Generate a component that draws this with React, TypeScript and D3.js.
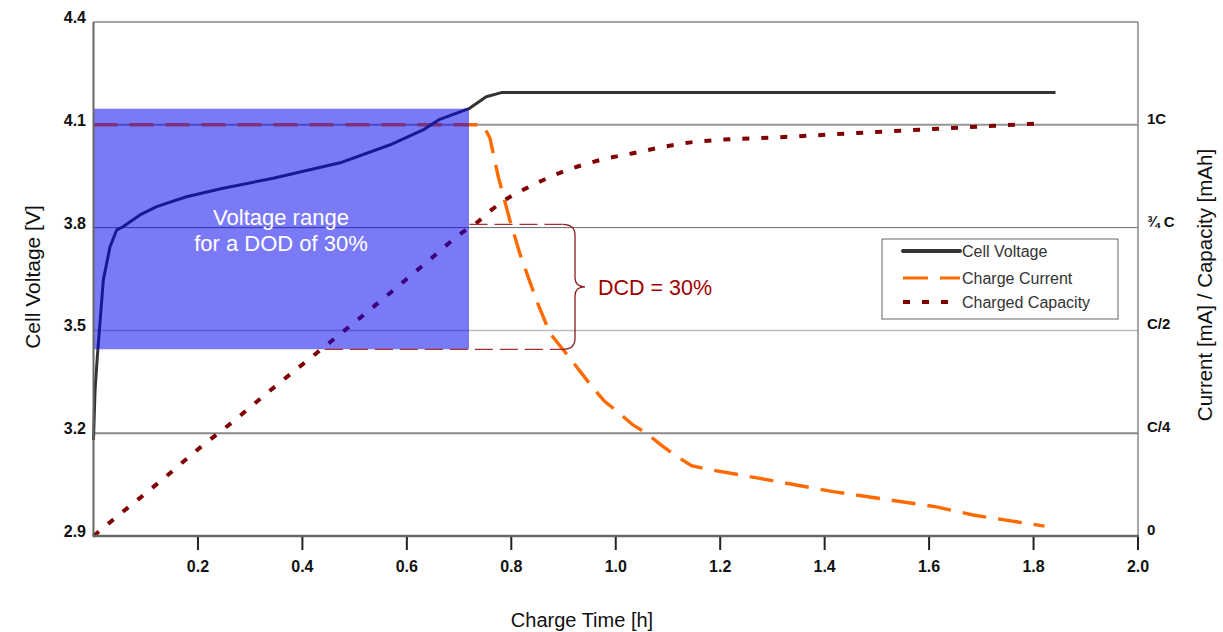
import React from 'react';
import * as d3 from 'd3';

// ---------- data ----------
const timeTicks = [0.2, 0.4, 0.6, 0.8, 1.0, 1.2, 1.4, 1.6, 1.8, 2.0];
const voltageTicks = [2.9, 3.2, 3.5, 3.8, 4.1, 4.4];
const currentTicks = [0, 0.25, 0.5, 0.75, 1];
const currentTickLabels = ['0', 'C/4', 'C/2', '¾ C', '1C'];

const voltageT = [0, 0.003, 0.0073, 0.0188, 0.0316, 0.0444, 0.057, 0.089, 0.121, 0.178, 0.248, 0.344, 0.472, 0.567, 0.631, 0.663, 0.72, 0.752, 0.781, 1.842];
const voltageV = [3.18, 3.326, 3.423, 3.647, 3.744, 3.793, 3.803, 3.837, 3.861, 3.89, 3.915, 3.944, 3.989, 4.041, 4.085, 4.116, 4.148, 4.182, 4.194, 4.194];

const currentT = [0, 0.746, 0.759, 0.775, 0.797, 0.816, 0.848, 0.874, 0.915, 0.957, 0.979, 1.004, 1.033, 1.059, 1.087, 1.113, 1.145, 1.174, 1.276, 1.416, 1.614, 1.684, 1.821];
const currentC = [1, 1, 0.968, 0.874, 0.769, 0.688, 0.574, 0.493, 0.428, 0.359, 0.327, 0.302, 0.27, 0.25, 0.221, 0.197, 0.171, 0.163, 0.14, 0.108, 0.071, 0.051, 0.024];

const capacityT = [0, 0.037, 0.123, 0.21, 0.267, 0.328, 0.443, 0.529, 0.644, 0.705, 0.733, 0.762, 0.794, 0.829, 0.893, 0.963, 1.033, 1.148, 1.333, 1.521, 1.671, 1.821];
const capacityC = [0, 0.039, 0.128, 0.221, 0.278, 0.343, 0.461, 0.55, 0.672, 0.737, 0.761, 0.793, 0.822, 0.846, 0.883, 0.912, 0.931, 0.958, 0.971, 0.984, 0.994, 1.004];

const dodT = [0, 0.719];
const dodV = [3.445, 4.147];
const dcdLevels = [0.758, 0.454];
const dcdStartT = [0.72, 0.443];
const braceT = 0.922;

const legendLabels = ['Cell Voltage', 'Charge Current', 'Charged Capacity'];
const dodLabelLines = ['Voltage range', 'for a DOD of 30%'];
const dcdLabel = 'DCD = 30%';

// ---------- layout ----------
const W = 1223, H = 632;
const L = 93.5, R = 1138, T = 22, B = 536;
const FONT = '"Liberation Sans", Arial, sans-serif';

const x = d3.scaleLinear().domain([0, 2]).range([L, R]);
const yV = d3.scaleLinear().domain([2.9, 4.4]).range([B, T]);
const yC = d3.scaleLinear().domain([0, 1.25]).range([B, T]);

const gridStyle: Record<number, { c: string; w: number }> = {
  3.2: { c: '#8a8a8a', w: 2 },
  3.5: { c: '#bdbdbd', w: 1.5 },
  3.8: { c: '#6a6a6a', w: 1 },
  4.1: { c: '#969696', w: 2 },
};

export default function App() {
  const vLine = d3.line<number>().x((_, i) => x(voltageT[i])).y((d) => yV(d)).curve(d3.curveLinear);
  const cLine = d3.line<number>().x((_, i) => x(currentT[i])).y((d) => yC(d)).curve(d3.curveLinear);
  const capLine = d3.line<number>().x((_, i) => x(capacityT[i])).y((d) => yC(d)).curve(d3.curveMonotoneX);

  const xb = x(braceT);
  const yt = yC(dcdLevels[0]);
  const ybt = yC(dcdLevels[1]);
  const ym = (yt + ybt) / 2;
  const bracePath = `M${xb - 12},${yt} Q${xb},${yt} ${xb},${yt + 11} L${xb},${ym - 9} Q${xb},${ym} ${xb + 10},${ym} Q${xb},${ym} ${xb},${ym + 9} L${xb},${ybt - 11} Q${xb},${ybt} ${xb - 12},${ybt}`;

  const legX = 882, legY = 239, legW = 236, legH = 80;
  const rowY = [251, 278, 302];

  return (
    <svg width={W} height={H} style={{ position: 'absolute', left: 0, top: 0, background: '#fff' }} fontFamily={FONT}>
      <rect x={L} y={T} width={R - L} height={B - T} fill="#fff" />
      {/* gridlines */}
      {voltageTicks.filter((v) => gridStyle[v]).map((v) => (
        <line key={v} x1={L} x2={R} y1={yV(v)} y2={yV(v)} stroke={gridStyle[v].c} strokeWidth={gridStyle[v].w} />
      ))}
      {/* series */}
      <path d={capLine(capacityC) || ''} fill="none" stroke="#800000" strokeWidth={4} strokeDasharray="7,12" />
      <path d={cLine(currentC) || ''} fill="none" stroke="#ff6a00" strokeWidth={3.4} strokeDasharray="24,12" />
      <path d={vLine(voltageV) || ''} fill="none" stroke="#333" strokeWidth={3} strokeLinejoin="round" />
      {/* DOD overlay */}
      <rect x={x(dodT[0])} y={yV(dodV[1])} width={x(dodT[1]) - x(dodT[0])} height={yV(dodV[0]) - yV(dodV[1])} fill="#0000f0" fillOpacity={0.52} />
      {dodLabelLines.map((s, i) => (
        <text key={s} x={281} y={225 + i * 26} textAnchor="middle" fill="#fff" fontSize={22}>{s}</text>
      ))}
      {/* DCD bracket */}
      {dcdLevels.map((c, i) => (
        <line key={c} x1={x(dcdStartT[i])} x2={xb - 12} y1={yC(c)} y2={yC(c)} stroke="#a23030" strokeWidth={1.3} strokeDasharray="18,7" />
      ))}
      <path d={bracePath} fill="none" stroke="#8b1c1c" strokeWidth={1.3} />
      <text x={598} y={295} fill="#a00000" fontSize={21.5}>{dcdLabel}</text>
      {/* frame */}
      <line x1={L} x2={R} y1={T} y2={T} stroke="#888" strokeWidth={1.5} />
      <line x1={R} x2={R} y1={T} y2={B} stroke="#888" strokeWidth={1.5} />
      <line x1={L} x2={L} y1={T} y2={B} stroke="#666" strokeWidth={2} />
      <line x1={L - 1} x2={R + 1} y1={B} y2={B} stroke="#666" strokeWidth={2.5} />
      {/* x ticks */}
      {timeTicks.map((t) => (
        <g key={t}>
          <line x1={x(t)} x2={x(t)} y1={B + 1} y2={B + 14} stroke="#222" strokeWidth={2} />
          <text x={x(t)} y={572} textAnchor="middle" fontSize={16} fontWeight="bold" fill="#111">{t.toFixed(1)}</text>
        </g>
      ))}
      {/* left labels */}
      {voltageTicks.map((v) => (
        <text key={v} x={86} y={yV(v) + 1} textAnchor="end" fontSize={16} fontWeight="bold" fill="#111">{v.toFixed(1)}</text>
      ))}
      {/* right labels */}
      {currentTicks.map((c, i) => (
        <text key={c} x={1147} y={yC(c) - 1} fontSize={15} fontWeight="bold" fill="#111">{currentTickLabels[i]}</text>
      ))}
      {/* titles */}
      <text x={582} y={627} textAnchor="middle" fontSize={20} fill="#111">Charge Time [h]</text>
      <text transform="translate(40,277) rotate(-90)" textAnchor="middle" fontSize={21} fill="#111">Cell Voltage [V]</text>
      <text transform="translate(1212,285) rotate(-90)" textAnchor="middle" fontSize={20.5} fill="#111">Current  [mA] / Capacity [mAh]</text>
      {/* legend */}
      <rect x={legX} y={legY} width={legW} height={legH} fill="#fff" stroke="#666" strokeWidth={1} />
      <line x1={903} x2={960} y1={rowY[0]} y2={rowY[0]} stroke="#333" strokeWidth={4} strokeLinecap="round" />
      <line x1={903} x2={960} y1={rowY[1]} y2={rowY[1]} stroke="#ff6a00" strokeWidth={3} strokeDasharray="25,12" />
      <line x1={903} x2={960} y1={rowY[2]} y2={rowY[2]} stroke="#800000" strokeWidth={4} strokeDasharray="7,12" />
      {legendLabels.map((s, i) => (
        <text key={s} x={962} y={rowY[i] + 6} fontSize={16} fill="#333">{s}</text>
      ))}
    </svg>
  );
}
